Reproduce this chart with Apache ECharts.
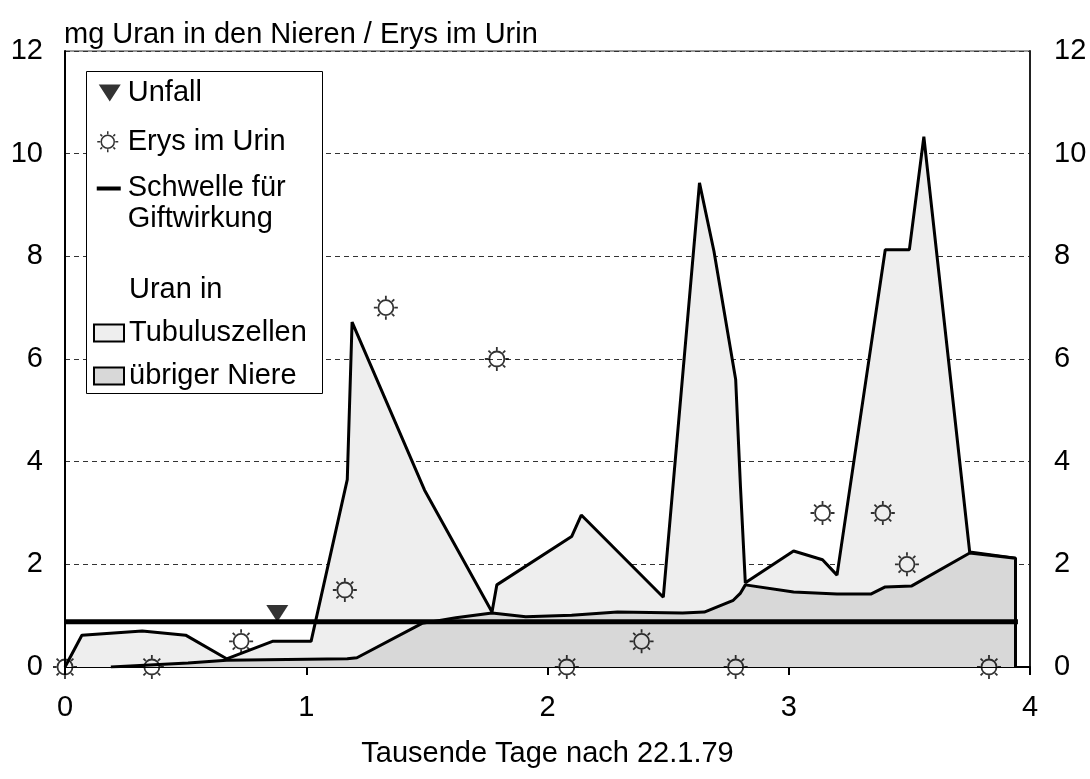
<!DOCTYPE html>
<html>
<head>
<meta charset="utf-8">
<script src="https://cdn.jsdelivr.net/npm/echarts@6/dist/echarts.min.js"></script>
<style>
html,body{margin:0;padding:0;background:#fff;}
#chart{width:1090px;height:779px;}
</style>
</head>
<body>
<div id="chart"></div>
<script>
// ---- data ----
const xTicks = [0, 1, 2, 3, 4];
const yTicks = [0, 2, 4, 6, 8, 10, 12];

// total uranium (top of light area = Tubuluszellen stacked on übriger Niere)
const tubulusDays  = [0, 0.07, 0.32, 0.50, 0.67, 0.86, 1.02, 1.17, 1.19, 1.49, 1.77, 1.79, 2.10, 2.14, 2.48, 2.63, 2.69, 2.78, 2.80, 2.82, 3.02, 3.14, 3.20, 3.40, 3.50, 3.56, 3.75, 3.94, 3.94];
const tubulusTotal = [0, 0.62, 0.70, 0.62, 0.16, 0.50, 0.50, 3.65, 6.72, 3.45, 1.07, 1.60, 2.54, 2.96, 1.36, 9.43, 8.10, 5.60, 3.50, 1.64, 2.26, 2.09, 1.79, 8.13, 8.13, 10.33, 2.24, 2.12, 0];

// uranium in the rest of the kidney
const niereDays   = [0.19, 0.51, 0.67, 1.17, 1.21, 1.48, 1.62, 1.77, 1.91, 2.10, 2.29, 2.56, 2.65, 2.77, 2.80, 2.82, 3.02, 3.20, 3.34, 3.40, 3.51, 3.75, 3.94, 3.94];
const niereValues = [0, 0.08, 0.13, 0.16, 0.18, 0.85, 0.96, 1.05, 0.98, 1.01, 1.07, 1.05, 1.07, 1.30, 1.44, 1.60, 1.46, 1.42, 1.42, 1.56, 1.58, 2.22, 2.12, 0];

// Erys im Urin (right axis)
const erysDays   = [0, 0.36, 0.73, 1.16, 1.33, 1.79, 2.08, 2.39, 2.78, 3.14, 3.39, 3.49, 3.83];
const erysValues = [0, 0, 0.5, 1.5, 7, 6, 0, 0.5, 0, 3, 3, 2, 0];

// threshold for toxicity
const schwelleDays   = [0, 3.95];
const schwelleValues = [0.88, 0.88];

// accident
const unfallDays   = [0.88];
const unfallValues = [1.04];

// ---- build ----
const zip = (a, b) => a.map((v, i) => [v, b[i]]);
const FONT = "'Liberation Sans', Arial, sans-serif";
const FS = 29;
const LIGHT = '#eeeeee';
const DARK = '#d8d8d8';

const sunPath = 'path://M19.5 12A7.5 7.5 0 1 1 4.5 12A7.5 7.5 0 1 1 19.5 12Z M12 0L12 3.5 M12 20.5L12 24 M0 12L3.5 12 M20.5 12L24 12 M3.6 3.6L5.9 5.9 M20.4 3.6L18.1 5.9 M3.6 20.4L5.9 18.1 M20.4 20.4L18.1 18.1';
const triPath = 'path://M0 0L22 0L11 17Z';

// legend icons framed in a 26 x 36 box (zero-size anchors keep the frame)
const fillAnchors = ' M0 0L0.01 0L0.01 0.01Z M26 36L25.99 36L25.99 35.99Z';
const strokeAnchors = ' M0 0L0 0 M26 36L26 36';
const legTri = 'path://M2 9.5L24 9.5L13 26.5Z' + fillAnchors;
const legSun = 'path://M17.5 18A6.5 6.5 0 1 1 4.5 18A6.5 6.5 0 1 1 17.5 18Z M11 7.5L11 10.5 M11 25.5L11 28.5 M0.5 18L3.5 18 M18.5 18L21.5 18 M3.6 10.6L5.4 12.4 M18.4 10.6L16.6 12.4 M3.6 25.4L5.4 23.6 M18.4 25.4L16.6 23.6' + strokeAnchors;
const legLine = 'path://M0 1H24V5H0Z' + fillAnchors;

const chart = echarts.init(document.getElementById('chart'));
const option = {
  animation: false,
  backgroundColor: '#fff',
  textStyle: { fontFamily: FONT, color: '#000' },
  title: {
    text: 'mg Uran in den Nieren / Erys im Urin',
    left: 64, top: 20, padding: 0,
    textStyle: { fontFamily: FONT, fontSize: FS, fontWeight: 'normal', color: '#000' }
  },
  grid: {
    left: 65, right: 60, top: 51, bottom: 112,
    show: true, borderColor: '#333', borderWidth: 1, backgroundColor: '#fff',
    containLabel: false, outerBoundsMode: 'none'
  },
  xAxis: {
    type: 'value', min: 0, max: 4, interval: 1,
    name: 'Tausende Tage nach 22.1.79', nameLocation: 'middle', nameGap: 72,
    nameTextStyle: { fontFamily: FONT, fontSize: FS, color: '#000' },
    axisLine: { show: true, onZero: false, lineStyle: { color: '#000', width: 2 } },
    axisTick: { show: true, length: 8, lineStyle: { color: '#000', width: 2 } },
    axisLabel: { fontFamily: FONT, fontSize: FS, color: '#000', margin: 26,
      formatter: v => xTicks.includes(v) ? String(v) : '' },
    splitLine: { show: false }
  },
  yAxis: [
    {
      type: 'value', min: 0, max: 12, interval: 2, position: 'left',
      axisLine: { show: true, lineStyle: { color: '#000', width: 2 } },
      axisTick: { show: false },
      axisLabel: { fontFamily: FONT, fontSize: FS, color: '#000', margin: 22,
        formatter: v => yTicks.includes(v) ? String(v) : '' },
      splitLine: { show: true, lineStyle: { color: '#333', width: 1, type: [5, 4] } }
    },
    {
      type: 'value', min: 0, max: 12, interval: 2, position: 'right',
      axisLine: { show: true, lineStyle: { color: '#222', width: 2 } },
      axisTick: { show: false },
      axisLabel: { fontFamily: FONT, fontSize: FS, color: '#000', margin: 24,
        formatter: v => yTicks.includes(v) ? String(v) : '' },
      splitLine: { show: false }
    }
  ],
  legend: [
    {
      orient: 'vertical', left: 96, top: 75, padding: 0,
      itemWidth: 26, itemHeight: 36, itemGap: 12,
      selectedMode: false, symbolKeepAspect: true,
      textStyle: { fontFamily: FONT, fontSize: FS, lineHeight: 31, color: '#000' },
      formatter: n => n === 'Schwelle für Giftwirkung' ? 'Schwelle für\nGiftwirkung' : n,
      data: [
        { name: 'Unfall', icon: legTri, itemStyle: { color: '#000', borderWidth: 0 } },
        { name: 'Erys im Urin', icon: legSun, itemStyle: { color: 'rgba(0,0,0,0)', borderColor: '#000', borderWidth: 1.5 } },
        { name: 'Schwelle für Giftwirkung', icon: legLine, itemStyle: { color: '#000', borderWidth: 0 } }
      ]
    },
    {
      orient: 'vertical', left: 93, top: 274.5, padding: 0,
      itemWidth: 30, itemHeight: 17, itemGap: 12,
      selectedMode: false,
      textStyle: { fontFamily: FONT, fontSize: FS, lineHeight: 31, color: '#000' },
      data: [
        { name: 'Uran in', icon: 'rect', itemStyle: { color: 'rgba(0,0,0,0)', borderWidth: 0, opacity: 0 } },
        { name: 'Tubuluszellen', icon: 'rect', itemStyle: { color: LIGHT, borderColor: '#000', borderWidth: 2 } },
        { name: 'übriger Niere', icon: 'rect', itemStyle: { color: DARK, borderColor: '#000', borderWidth: 2 } }
      ]
    }
  ],
  graphic: [
    { type: 'rect', left: 86, top: 71, z: 3,
      shape: { width: 236, height: 322 },
      style: { fill: '#fff', stroke: '#000', lineWidth: 1 } }
  ],
  series: [
    {
      name: 'Tubuluszellen', type: 'line', z: 2,
      data: zip(tubulusDays, tubulusTotal),
      symbol: 'none', showSymbol: false,
      itemStyle: { color: LIGHT },
      lineStyle: { color: '#000', width: 3 },
      areaStyle: { color: LIGHT, opacity: 1, origin: 'start' }
    },
    {
      name: 'übriger Niere', type: 'line', z: 3,
      data: zip(niereDays, niereValues),
      symbol: 'none', showSymbol: false,
      itemStyle: { color: DARK },
      lineStyle: { color: '#000', width: 3 },
      areaStyle: { color: DARK, opacity: 1, origin: 'start' }
    },
    {
      name: 'Schwelle für Giftwirkung', type: 'line', z: 4,
      data: zip(schwelleDays, schwelleValues),
      symbol: 'none', showSymbol: false,
      itemStyle: { color: '#000' },
      lineStyle: { color: '#000', width: 5 }
    },
    {
      name: 'Uran in', type: 'line', data: [], symbol: 'none'
    },
    {
      name: 'Unfall', type: 'scatter', z: 5,
      data: zip(unfallDays, unfallValues),
      symbol: triPath, symbolSize: [22, 17],
      itemStyle: { color: '#000' }
    },
    {
      name: 'Erys im Urin', type: 'scatter', z: 6, yAxisIndex: 1,
      data: zip(erysDays, erysValues),
      symbol: sunPath, symbolSize: 24,
      itemStyle: { color: 'rgba(0,0,0,0)', borderColor: '#000', borderWidth: 1.8 }
    }
  ]
};
chart.setOption(option);
</script>
</body>
</html>
